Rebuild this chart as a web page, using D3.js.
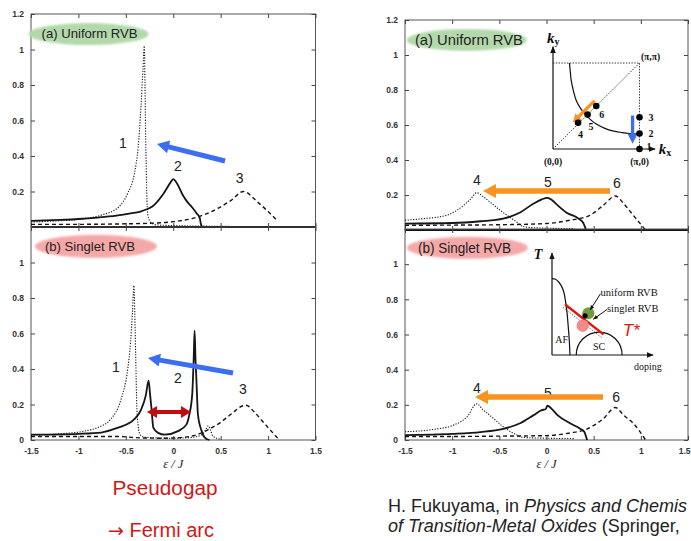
<!DOCTYPE html>
<html>
<head>
<meta charset="utf-8">
<script src="https://cdn.jsdelivr.net/npm/d3@7"></script>
<style>
  html, body { margin: 0; padding: 0; background: #fff; }
  svg { display: block; }
</style>
</head>
<body>
<svg id="chart" width="691" height="541"></svg>
<script>
// Spectral weight A(k, ε) in the uniform and singlet RVB states.

// ---- tick values ----
const epsTicks = [-1.5, -1, -0.5, 0, 0.5, 1, 1.5];
const weightTicksUpper = [0.2, 0.4, 0.6, 0.8, 1, 1.2];
const weightTicksLower = [0, 0.2, 0.4, 0.6, 0.8, 1];

// ---- left column: k points 1, 2, 3 (cut (π,0) → (π,π)) ----
const uniformK1 = [[-1.5,0.028],[-1.2,0.035],[-1.0,0.043],[-0.76,0.067],[-0.58,0.11],[-0.48,0.19],[-0.41,0.30],[-0.37,0.45],[-0.34,0.68],[-0.32,0.88],[-0.305,1.02],[-0.298,0.80],[-0.292,0.55],[-0.285,0.34],[-0.277,0.15],[-0.265,0.06],[-0.235,0.025],[-0.18,0.012],[0.0,0.008],[0.3,0.005],[0.6,0.004]];
const uniformK2 = [[-1.5,0.035],[-1.2,0.04],[-1.0,0.045],[-0.8,0.053],[-0.6,0.064],[-0.45,0.077],[-0.33,0.09],[-0.2,0.125],[-0.1,0.19],[-0.03,0.25],[0.0,0.27],[0.04,0.245],[0.1,0.18],[0.15,0.14],[0.2,0.11],[0.25,0.075],[0.28,0.05],[0.29,0.02],[0.305,0.0]];
const uniformK3 = [[-1.5,0.015],[-1.0,0.015],[-0.5,0.018],[-0.2,0.022],[0.0,0.03],[0.25,0.055],[0.47,0.105],[0.61,0.15],[0.74,0.2],[0.89,0.14],[1.0,0.087],[1.09,0.04]];

const singletK1 = [[-1.5,0.027],[-1.2,0.035],[-0.94,0.05],[-0.8,0.07],[-0.66,0.117],[-0.55,0.23],[-0.48,0.40],[-0.45,0.55],[-0.43,0.72],[-0.415,0.87],[-0.405,0.70],[-0.395,0.45],[-0.385,0.2],[-0.37,0.08],[-0.35,0.03],[-0.3,0.015],[0.0,0.01],[0.2,0.015],[0.3,0.03],[0.34,0.055],[0.37,0.08],[0.39,0.06],[0.42,0.02],[0.5,0.005]];
const singletK2 = [[-1.5,0.03],[-1.0,0.035],[-0.76,0.042],[-0.58,0.07],[-0.45,0.1],[-0.41,0.117],[-0.34,0.17],[-0.29,0.25],[-0.26,0.335],[-0.245,0.26],[-0.23,0.18],[-0.21,0.07],[-0.16,0.04],[-0.09,0.03],[0.05,0.05],[0.14,0.088],[0.17,0.145],[0.2,0.257],[0.215,0.45],[0.225,0.616],[0.235,0.45],[0.245,0.33],[0.26,0.145],[0.3,0.05],[0.33,0.015],[0.38,0.0]];
const singletK3 = [[-1.5,0.02],[-1.0,0.02],[-0.6,0.02],[-0.35,0.012],[-0.1,0.01],[0.1,0.015],[0.25,0.03],[0.36,0.056],[0.5,0.1],[0.62,0.15],[0.72,0.19],[0.77,0.196],[0.85,0.16],[0.95,0.1],[1.05,0.04],[1.12,0.0]];

// ---- right column: k points 4, 5, 6 (diagonal cut) ----
const uniformK4 = [[-1.5,0.056],[-1.3,0.065],[-1.06,0.084],[-0.88,0.14],[-0.8,0.18],[-0.74,0.213],[-0.67,0.19],[-0.6,0.16],[-0.46,0.10],[-0.38,0.07],[-0.32,0.047],[-0.25,0.02],[-0.1,0.012],[0.3,0.008]];
const uniformK5 = [[-1.5,0.037],[-1.0,0.04],[-0.7,0.05],[-0.46,0.065],[-0.28,0.10],[-0.14,0.15],[-0.05,0.175],[0.01,0.184],[0.06,0.17],[0.11,0.145],[0.21,0.10],[0.34,0.065],[0.39,0.04],[0.42,0.0]];
const uniformK6 = [[-1.5,0.027],[-1.0,0.028],[-0.5,0.03],[0.0,0.037],[0.25,0.056],[0.46,0.084],[0.6,0.14],[0.73,0.194],[0.82,0.15],[0.92,0.084],[1.05,0.0]];

const singletK4 = [[-1.5,0.047],[-1.2,0.06],[-0.98,0.086],[-0.84,0.133],[-0.74,0.206],[-0.67,0.17],[-0.6,0.14],[-0.46,0.076],[-0.32,0.03],[-0.25,0.015],[0.0,0.01],[0.3,0.008]];
const singletK5 = [[-1.5,0.028],[-1.0,0.035],[-0.7,0.045],[-0.46,0.063],[-0.28,0.095],[-0.14,0.14],[-0.05,0.17],[-0.01,0.175],[0.01,0.195],[0.05,0.18],[0.12,0.14],[0.25,0.095],[0.36,0.063],[0.4,0.047],[0.43,0.0]];
const singletK6 = [[-1.5,0.02],[-1.0,0.02],[-0.5,0.022],[0.0,0.025],[0.25,0.04],[0.42,0.06],[0.6,0.12],[0.73,0.185],[0.82,0.14],[0.92,0.095],[1.05,0.0]];

// ---- Brillouin-zone inset (units of π) ----
const fermiSurface = [[0.19,1.0],[0.2,0.9],[0.21,0.8],[0.235,0.68],[0.27,0.56],[0.32,0.47],[0.37,0.41],[0.43,0.345],[0.5,0.29],[0.6,0.24],[0.69,0.21],[0.8,0.19],[0.88,0.18],[1.0,0.175]];
const kPointNames = ["1","2","3","4","5","6"];
const kPointKx = [1, 1, 1, 0.29, 0.40, 0.50];
const kPointKy = [0, 0.18, 0.37, 0.306, 0.40, 0.50];

// ---- phase-diagram inset (normalised doping / temperature) ----
const afBoundary = [[0.0,0.78],[0.03,0.775],[0.066,0.745],[0.1,0.69],[0.12,0.63],[0.135,0.54],[0.148,0.44],[0.16,0.3],[0.171,0.15],[0.178,0.0]];
const scDome = { center: 0.467, halfWidth: 0.227, height: 0.234 };
const tStarLine = [[0.13,0.516],[0.51,0.21]];

// ---------------------------------------------------------------------
const svg = d3.select("#chart");
const defs = svg.append("defs");
defs.append("filter").attr("id", "soft")
  .append("feGaussianBlur").attr("stdDeviation", 1.3);
defs.append("marker").attr("id", "tri").attr("viewBox", "0 0 10 10")
  .attr("refX", 9).attr("refY", 5).attr("markerWidth", 7).attr("markerHeight", 7)
  .attr("markerUnits", "userSpaceOnUse").attr("orient", "auto")
  .append("path").attr("d", "M0,1 L10,5 L0,9 Z").attr("fill", "#111");
defs.append("marker").attr("id", "tiny").attr("viewBox", "0 0 10 10")
  .attr("refX", 9).attr("refY", 5).attr("markerWidth", 5).attr("markerHeight", 5)
  .attr("markerUnits", "userSpaceOnUse").attr("orient", "auto")
  .append("path").attr("d", "M0,1 L10,5 L0,9 Z").attr("fill", "#111");

const SANS = "'Liberation Sans', Arial, Helvetica, sans-serif";
const SERIF = "'Liberation Serif', 'Times New Roman', serif";

const lineStyles = {
  dotted: { dash: "1.2,1.5", width: 1.1 },
  solid:  { dash: null,      width: 1.8 },
  dashed: { dash: "4,3",     width: 1.4 }
};

function arrowPath(xa, ya, xb, yb, shaft, headLen, headHalf, both) {
  const dx = xb - xa, dy = yb - ya, L = Math.hypot(dx, dy);
  const ux = dx / L, uy = dy / L, nx = -uy, ny = ux;
  const p = (t, s) => [xa + ux * t + nx * s, ya + uy * t + ny * s];
  const h = shaft / 2;
  let pts;
  if (!both) {
    pts = [p(0, h), p(L - headLen, h), p(L - headLen, headHalf), p(L, 0),
           p(L - headLen, -headHalf), p(L - headLen, -h), p(0, -h)];
  } else {
    pts = [p(0, 0), p(headLen, headHalf), p(headLen, h), p(L - headLen, h),
           p(L - headLen, headHalf), p(L, 0), p(L - headLen, -headHalf),
           p(L - headLen, -h), p(headLen, -h), p(headLen, -headHalf)];
  }
  return "M" + pts.map(q => q[0].toFixed(2) + "," + q[1].toFixed(2)).join("L") + "Z";
}

function drawPanel(cfg) {
  const { x, y, yTicks, xLabels, curves, midThick } = cfg;
  const g = svg.append("g");
  const [x0, x1] = x.range();
  const [yB, yT] = y.range();

  // frame
  g.append("rect").attr("x", x0).attr("y", yT).attr("width", x1 - x0).attr("height", yB - yT)
    .attr("fill", "none").attr("stroke", "#555").attr("stroke-width", 1);
  if (midThick) {
    g.append("line").attr("x1", x0).attr("x2", x1).attr("y1", yB).attr("y2", yB)
      .attr("stroke", "#111").attr("stroke-width", 2);
  }

  const styleAxis = sel => {
    sel.select(".domain").remove();
    sel.selectAll(".tick line").attr("stroke", "#444");
    sel.selectAll(".tick text").attr("font-family", SANS).attr("font-weight", "bold")
      .attr("font-size", 8.5).attr("fill", "#333");
  };

  g.append("g").attr("transform", `translate(${x0},0)`)
    .call(d3.axisLeft(y).tickValues(yTicks).tickSize(-4).tickPadding(7).tickFormat(d => String(d)))
    .call(styleAxis);
  g.append("g").attr("transform", `translate(${x1},0)`)
    .call(d3.axisRight(y).tickValues(yTicks).tickSize(-4).tickFormat(() => ""))
    .call(styleAxis);
  const bottom = g.append("g").attr("transform", `translate(0,${yB})`)
    .call(d3.axisBottom(x).tickValues(epsTicks).tickSize(-4).tickPadding(8)
      .tickFormat(d => xLabels ? String(d) : ""))
    .call(styleAxis);
  // keep the last tick label inside the page when the panel reaches the edge
  if (xLabels && x1 > 680) {
    bottom.selectAll(".tick text").filter(d => d === epsTicks[epsTicks.length - 1])
      .attr("text-anchor", "end").attr("x", 690 - x1);
  }
  g.append("g").attr("transform", `translate(0,${yT})`)
    .call(d3.axisTop(x).tickValues(epsTicks).tickSize(-4).tickFormat(() => ""))
    .call(styleAxis);

  const line = d3.line().x(d => x(d[0])).y(d => y(d[1])).curve(d3.curveMonotoneX);
  curves.forEach(c => {
    const st = lineStyles[c.style];
    g.append("path").datum(c.data).attr("d", line)
      .attr("fill", "none").attr("stroke", "#151515")
      .attr("stroke-width", st.width)
      .attr("stroke-dasharray", st.dash)
      .attr("stroke-linejoin", "round");
  });

  if (xLabels) {
    g.append("text").attr("x", x(0)).attr("y", yB + 28)
      .attr("text-anchor", "middle").attr("font-family", SERIF)
      .attr("font-style", "italic").attr("font-size", 12.5).attr("fill", "#222")
      .text("ε / J");
  }
  return g;
}

function badge(g, x, y, c) {
  g.append("ellipse").attr("cx", x(c.e)).attr("cy", y(c.v)).attr("rx", c.rx).attr("ry", c.ry)
    .attr("fill", c.fill).attr("filter", "url(#soft)");
  g.append("text").attr("x", x(c.e) - c.rx + c.pad).attr("y", y(c.v) + c.size * 0.34)
    .attr("font-family", SANS).attr("font-size", c.size).attr("fill", "#222")
    .attr("textLength", c.len).attr("lengthAdjust", "spacingAndGlyphs")
    .text(c.text);
}

function numbers(g, x, y, list) {
  list.forEach(n => {
    g.append("text").attr("x", x(n.e)).attr("y", y(n.v)).attr("dy", "0.36em")
      .attr("text-anchor", "middle").attr("font-family", SANS)
      .attr("font-size", 14).attr("fill", "#222").text(n.t);
  });
}

function bigArrow(g, x, y, a) {
  g.append("path")
    .attr("d", arrowPath(x(a.from[0]), y(a.from[1]), x(a.to[0]), y(a.to[1]),
      a.shaft, a.headLen, a.headHalf, a.both))
    .attr("fill", a.color);
}

const GREEN = "#b3d9ab", PINK = "#f5a8a8";
const BLUE = "#3b6ef0", ORANGE = "#f7931e", DARKRED = "#c40a0a";

// ---- scales ----
const xLeft = d3.scaleLinear([-1.5, 1.5], [31, 315.5]);
const yLeftTop = d3.scaleLinear([0, 1.2], [227, 14]);
const yLeftBot = d3.scaleLinear([0, 1.2], [440, 227]);
const xRight = d3.scaleLinear([-1.5, 1.5], [405, 688]);
const yRightTop = d3.scaleLinear([0, 1.2], [230, 20]);
const yRightBot = d3.scaleLinear([0, 1.2], [440, 229]);

// ---- left column ----
const gLT = drawPanel({ x: xLeft, y: yLeftTop, yTicks: weightTicksUpper, xLabels: false, midThick: true,
  curves: [{ data: uniformK1, style: "dotted" }, { data: uniformK2, style: "solid" }, { data: uniformK3, style: "dashed" }] });
badge(gLT, xLeft, yLeftTop, { e: -0.893, v: 1.087, rx: 60, ry: 11, fill: GREEN, pad: 13, size: 13, len: 96, text: "(a) Uniform RVB" });
numbers(gLT, xLeft, yLeftTop, [{ t: "1", e: -0.53, v: 0.473 }, { t: "2", e: 0.05, v: 0.344 }, { t: "3", e: 0.70, v: 0.276 }]);
bigArrow(gLT, xLeft, yLeftTop, { from: [0.546, 0.372], to: [-0.171, 0.468], shaft: 5, headLen: 12, headHalf: 6.5, color: BLUE });

const gLB = drawPanel({ x: xLeft, y: yLeftBot, yTicks: weightTicksLower, xLabels: true, midThick: false,
  curves: [{ data: singletK1, style: "dotted" }, { data: singletK2, style: "solid" }, { data: singletK3, style: "dashed" }] });
badge(gLB, xLeft, yLeftBot, { e: -0.815, v: 1.091, rx: 61, ry: 11.5, fill: PINK, pad: 10, size: 13, len: 90, text: "(b) Singlet RVB" });
numbers(gLB, xLeft, yLeftBot, [{ t: "1", e: -0.604, v: 0.411 }, { t: "2", e: 0.05, v: 0.349 }, { t: "3", e: 0.735, v: 0.287 }]);
bigArrow(gLB, xLeft, yLeftBot, { from: [0.63, 0.377], to: [-0.266, 0.462], shaft: 5, headLen: 12, headHalf: 6.5, color: BLUE });
bigArrow(gLB, xLeft, yLeftBot, { from: [-0.277, 0.158], to: [0.187, 0.158], shaft: 4, headLen: 10, headHalf: 6, both: true, color: DARKRED });

// ---- right column ----
const gRT = drawPanel({ x: xRight, y: yRightTop, yTicks: weightTicksUpper, xLabels: false, midThick: true,
  curves: [{ data: uniformK4, style: "dotted" }, { data: uniformK5, style: "solid" }, { data: uniformK6, style: "dashed" }] });
badge(gRT, xRight, yRightTop, { e: -0.844, v: 1.086, rx: 60, ry: 11, fill: GREEN, pad: 8, size: 15, len: 108, text: "(a) Uniform RVB" });
numbers(gRT, xRight, yRightTop, [{ t: "4", e: -0.737, v: 0.286 }, { t: "5", e: 0.016, v: 0.274 }, { t: "6", e: 0.747, v: 0.269 }]);
bigArrow(gRT, xRight, yRightTop, { from: [0.673, 0.223], to: [-0.673, 0.223], shaft: 5.5, headLen: 13, headHalf: 7, color: ORANGE });

const gRB = drawPanel({ x: xRight, y: yRightBot, yTicks: weightTicksLower, xLabels: true, midThick: false,
  curves: [{ data: singletK4, style: "dotted" }, { data: singletK5, style: "solid" }, { data: singletK6, style: "dashed" }] });
badge(gRB, xRight, yRightBot, { e: -0.838, v: 1.093, rx: 60.5, ry: 11, fill: PINK, pad: 11, size: 14, len: 93, text: "(b) Singlet RVB" });
numbers(gRB, xRight, yRightBot, [{ t: "4", e: -0.737, v: 0.296 }, { t: "5", e: 0.016, v: 0.267 }, { t: "6", e: 0.737, v: 0.245 }]);
bigArrow(gRB, xRight, yRightBot, { from: [0.599, 0.245], to: [-0.758, 0.245], shaft: 5.5, headLen: 13, headHalf: 7, color: ORANGE });

// ---- Brillouin-zone inset ----
(function () {
  const g = svg.append("g");
  const kx = d3.scaleLinear([0, 1], [553, 639.5]);
  const ky = d3.scaleLinear([0, 1], [149, 63]);
  g.append("path").attr("d", `M${kx(0)},${ky(1)}L${kx(1)},${ky(1)}L${kx(1)},${ky(0)}`)
    .attr("fill", "none").attr("stroke", "#222").attr("stroke-width", 0.9).attr("stroke-dasharray", "1.4,1.4");
  g.append("line").attr("x1", kx(0)).attr("y1", ky(0)).attr("x2", kx(1)).attr("y2", ky(1))
    .attr("stroke", "#222").attr("stroke-width", 0.9).attr("stroke-dasharray", "1.4,1.4");
  g.append("line").attr("x1", kx(0)).attr("y1", ky(0)).attr("x2", kx(1.18)).attr("y2", ky(0))
    .attr("stroke", "#111").attr("stroke-width", 1.2).attr("marker-end", "url(#tri)");
  g.append("line").attr("x1", kx(0)).attr("y1", ky(0)).attr("x2", kx(0)).attr("y2", ky(1.19))
    .attr("stroke", "#111").attr("stroke-width", 1.2).attr("marker-end", "url(#tri)");
  g.append("path").datum(fermiSurface)
    .attr("d", d3.line().x(d => kx(d[0])).y(d => ky(d[1])).curve(d3.curveCatmullRom))
    .attr("fill", "none").attr("stroke", "#111").attr("stroke-width", 1.2);

  // orange and blue direction arrows
  g.append("path").attr("d", arrowPath(kx(0.48), ky(0.56), kx(0.23), ky(0.31), 3.3, 8, 4.5))
    .attr("fill", ORANGE);
  g.append("path").attr("d", arrowPath(kx(0.92), ky(0.39), kx(0.92), ky(0.06), 3.3, 10, 5))
    .attr("fill", BLUE);

  const labelOffset = [[7, -3], [9, 0], [9, 0], [0, 12], [1, 12], [3, 8]];
  kPointNames.forEach((name, i) => {
    g.append("circle").attr("cx", kx(kPointKx[i])).attr("cy", ky(kPointKy[i])).attr("r", 3.3).attr("fill", "#000");
    g.append("text").attr("x", kx(kPointKx[i]) + labelOffset[i][0]).attr("y", ky(kPointKy[i]) + labelOffset[i][1])
      .attr("dy", "0.35em").attr("font-family", SERIF).attr("font-weight", "bold")
      .attr("font-size", 10).attr("fill", "#111").text(name);
  });

  const tag = (tx, ty, s, size) => g.append("text").attr("x", tx).attr("y", ty).attr("dy", "0.35em")
    .attr("text-anchor", "middle").attr("font-family", SERIF).attr("font-weight", "bold")
    .attr("font-size", size).attr("fill", "#111").text(s);
  tag(kx(0), ky(0) + 13, "(0,0)", 9.5);
  tag(kx(1), ky(0) + 13, "(π,0)", 9.5);
  tag(kx(1) + 11, ky(1) - 6, "(π,π)", 9.5);

  const kLabel = (tx, ty, sub) => {
    const t = g.append("text").attr("x", tx).attr("y", ty).attr("font-family", SERIF)
      .attr("font-weight", "bold").attr("fill", "#111");
    t.append("tspan").attr("font-style", "italic").attr("font-size", 15).text("k");
    t.append("tspan").attr("font-size", 10).attr("dy", 2).text(sub);
  };
  kLabel(kx(0) - 6, ky(1.19) - 4, "y");
  kLabel(kx(1.2) + 2, ky(0) + 5, "x");
})();

// ---- phase-diagram inset ----
(function () {
  const g = svg.append("g");
  const dp = d3.scaleLinear([0, 1], [552, 653]);
  const tp = d3.scaleLinear([0, 1], [355, 257]);
  g.append("line").attr("x1", dp(0)).attr("y1", tp(0)).attr("x2", dp(1)).attr("y2", tp(0))
    .attr("stroke", "#111").attr("stroke-width", 1.2).attr("marker-end", "url(#tri)");
  g.append("line").attr("x1", dp(0)).attr("y1", tp(0)).attr("x2", dp(0)).attr("y2", tp(1.04))
    .attr("stroke", "#111").attr("stroke-width", 1.2).attr("marker-end", "url(#tri)");
  g.append("path").datum(afBoundary)
    .attr("d", d3.line().x(d => dp(d[0])).y(d => tp(d[1])).curve(d3.curveCatmullRom))
    .attr("fill", "none").attr("stroke", "#111").attr("stroke-width", 1.2);
  const rx = dp(scDome.center + scDome.halfWidth) - dp(scDome.center);
  const ry = tp(0) - tp(scDome.height);
  g.append("path")
    .attr("d", `M${dp(scDome.center - scDome.halfWidth)},${tp(0)} A${rx},${ry} 0 0 1 ${dp(scDome.center + scDome.halfWidth)},${tp(0)}`)
    .attr("fill", "none").attr("stroke", "#111").attr("stroke-width", 1.2);

  g.append("line").attr("x1", dp(tStarLine[0][0]) - 2).attr("y1", tp(tStarLine[0][1]) + 3)
    .attr("x2", dp(tStarLine[1][0]) - 2).attr("y2", tp(tStarLine[1][1]) + 3)
    .attr("stroke", "#333").attr("stroke-width", 0.9).attr("stroke-dasharray", "1.2,1.6");
  g.append("line").attr("x1", dp(tStarLine[0][0])).attr("y1", tp(tStarLine[0][1]))
    .attr("x2", dp(tStarLine[1][0])).attr("y2", tp(tStarLine[1][1]))
    .attr("stroke", "#e3120b").attr("stroke-width", 2.4);

  g.append("circle").attr("cx", dp(0.36)).attr("cy", tp(0.426)).attr("r", 6).attr("fill", "#6f9d3a");
  g.append("circle").attr("cx", dp(0.327)).attr("cy", tp(0.40)).attr("r", 2.6).attr("fill", "#000");
  g.append("circle").attr("cx", dp(0.304)).attr("cy", tp(0.299)).attr("r", 6.2).attr("fill", "#f18b8b");

  g.append("line").attr("x1", dp(0.48)).attr("y1", tp(0.625)).attr("x2", dp(0.378)).attr("y2", tp(0.46))
    .attr("stroke", "#111").attr("stroke-width", 1).attr("marker-end", "url(#tiny)");
  g.append("line").attr("x1", dp(0.545)).attr("y1", tp(0.465)).attr("x2", dp(0.41)).attr("y2", tp(0.365))
    .attr("stroke", "#111").attr("stroke-width", 1).attr("marker-end", "url(#tiny)");

  const serif = (tx, ty, s, size, anchor, extra) => {
    const t = g.append("text").attr("x", tx).attr("y", ty).attr("font-family", SERIF)
      .attr("font-size", size).attr("fill", "#111").attr("text-anchor", anchor || "start").text(s);
    if (extra) extra(t);
    return t;
  };
  serif(dp(0.48), tp(0.60), "uniform RVB", 10.5);
  serif(dp(0.545), tp(0.44), "singlet RVB", 10.5);
  serif(dp(0.095), tp(0.12), "AF", 10, "middle");
  serif(dp(0.467), tp(0.055), "SC", 10, "middle");
  serif(dp(0.95), tp(-0.15), "doping", 10, "middle");
  serif(dp(0) - 14, tp(0.98), "T", 14, "middle", t => t.attr("font-style", "italic").attr("font-weight", "bold"));

  g.append("text").attr("x", dp(0.7)).attr("y", tp(0.19)).attr("font-family", SANS)
    .attr("font-style", "italic").attr("font-size", 17).attr("fill", "#e3120b").text("T*");
})();

// ---- captions ----
svg.append("text").attr("x", 165).attr("y", 495).attr("text-anchor", "middle")
  .attr("font-family", SANS).attr("font-size", 20).attr("fill", "#d01818")
  .attr("textLength", 105).attr("lengthAdjust", "spacingAndGlyphs").text("Pseudogap");
const arc = svg.append("text").attr("x", 108).attr("y", 536.5)
  .attr("font-family", SANS).attr("font-size", 20).attr("fill", "#d01818");
arc.append("tspan").attr("font-family", "'DejaVu Sans', sans-serif").attr("font-size", 19).text("→");
arc.append("tspan").text(" Fermi arc");

const cite1 = svg.append("text").attr("x", 388).attr("y", 511.5)
  .attr("font-family", SANS).attr("font-size", 18).attr("fill", "#222");
cite1.append("tspan").text("H. Fukuyama, in ");
cite1.append("tspan").attr("font-style", "italic").text("Physics and Chemis");
const cite2 = svg.append("text").attr("x", 388).attr("y", 531.5)
  .attr("font-family", SANS).attr("font-size", 18).attr("fill", "#222");
cite2.append("tspan").attr("font-style", "italic").text("of Transition-Metal Oxides");
cite2.append("tspan").text(" (Springer,");
</script>
</body>
</html>
